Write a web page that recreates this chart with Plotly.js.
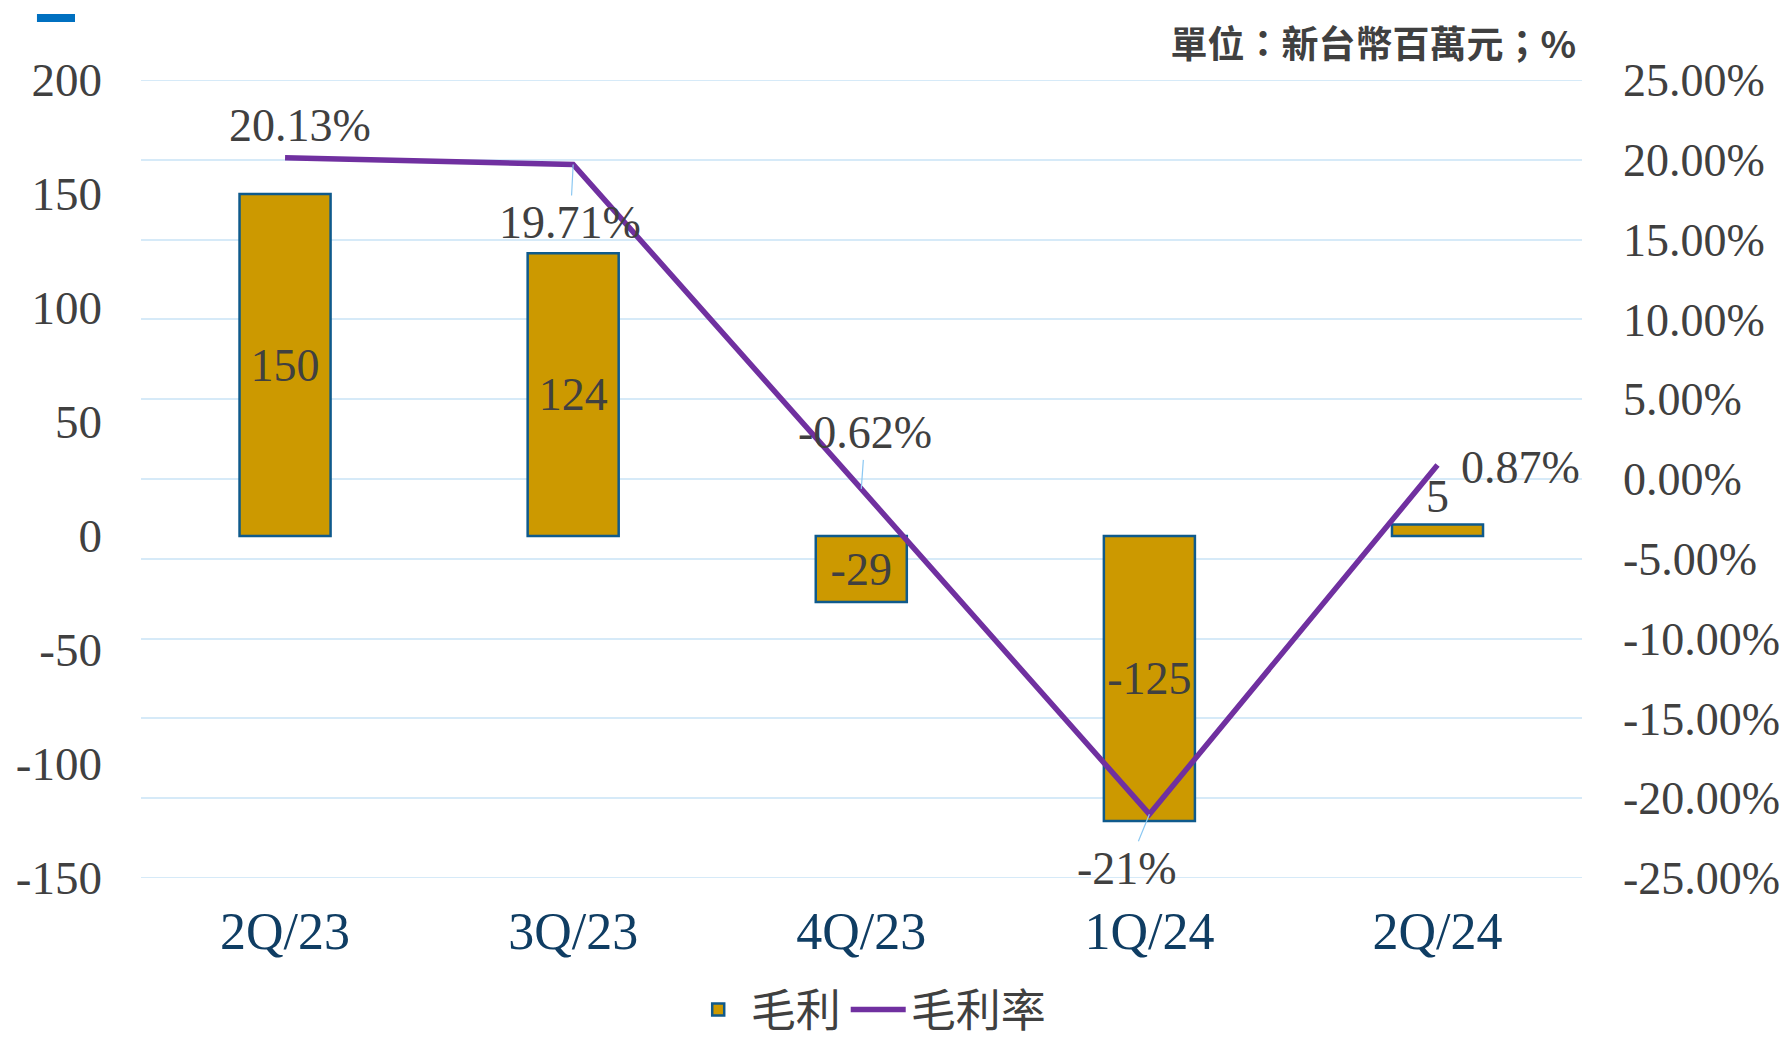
<!DOCTYPE html>
<html>
<head>
<meta charset="utf-8">
<script src="https://cdn.plot.ly/plotly-3.0.1.min.js"></script>
<style>
  html, body { margin: 0; padding: 0; background: #ffffff; }
  #chart { width: 1787px; height: 1042px; }
</style>
</head>
<body>
<div id="chart"></div>
<script>
// ---- data ----
const categories = ['2Q/23', '3Q/23', '4Q/23', '1Q/24', '2Q/24'];
const grossProfit = [150, 124, -29, -125, 5];          // 毛利 (新台幣百萬元)
const grossMarginPct = [20.13, 19.71, -0.62, -21, 0.87]; // 毛利率 (%)
const grossMarginText = ['20.13%', '19.71%', '-0.62%', '-21%', '0.87%'];
const leftTicks = [-150, -100, -50, 0, 50, 100, 150, 200];
const rightTicks = [-25, -20, -15, -10, -5, 0, 5, 10, 15, 20, 25];

// ---- styles ----
const serif = '"Liberation Serif", "Times New Roman", serif';
const cjk = '"Noto Sans CJK TC", "Noto Sans", sans-serif';
const textGray = '#404040';
const gridColor = '#D6EAF8';
const barPos = ['inside', 'inside', 'inside', 'inside', 'outside'];
// label placement (pixel offsets from each point) and leader-line flags
const labelStyle = [
  { dx: 15, dy: -32, arrow: false },
  { dx: -3, dy: 58, arrow: true },
  { dx: 4, dy: -56, arrow: true },
  { dx: -22, dy: 54, arrow: true },
  { dx: 83, dy: 2, arrow: false }
];

const barTrace = {
  type: 'bar',
  name: '毛利',
  x: categories,
  y: grossProfit,
  yaxis: 'y',
  width: 0.316,
  marker: { color: '#CC9900', line: { color: '#0F5A8C', width: 2.5 } },
  text: grossProfit.map(String),
  textposition: barPos,
  insidetextanchor: 'middle',
  constraintext: 'none',
  cliponaxis: false,
  textfont: { family: serif, size: 46, color: textGray },
  hoverinfo: 'skip'
};

const lineTrace = {
  type: 'scatter',
  mode: 'lines',
  name: '毛利率',
  x: categories,
  y: grossMarginPct,
  yaxis: 'y2',
  line: { color: '#7030A0', width: 5.5 },
  cliponaxis: false,
  hoverinfo: 'skip'
};

const annotations = categories.map((c, i) => {
  const s = labelStyle[i];
  const base = {
    x: c, y: grossMarginPct[i], xref: 'x', yref: 'y2',
    text: grossMarginText[i],
    font: { family: serif, size: 46, color: textGray }
  };
  if (s.arrow) {
    return Object.assign(base, {
      showarrow: true, arrowhead: 0, arrowwidth: 1.2, arrowcolor: '#8CC8F2',
      ax: s.dx, ay: s.dy, standoff: 0
    });
  }
  return Object.assign(base, { showarrow: false, xshift: s.dx, yshift: -s.dy });
});

// gridlines at the two range edges (Plotly omits gridlines on the plot boundary)
const edgeGrid = [rightTicks[0], rightTicks[rightTicks.length - 1]].map(v => ({
  type: 'line', xref: 'paper', yref: 'y2', x0: 0, x1: 1, y0: v, y1: v,
  layer: 'below', line: { color: gridColor, width: 2 }
}));

const layout = {
  width: 1787,
  height: 1042,
  paper_bgcolor: '#ffffff',
  plot_bgcolor: '#ffffff',
  margin: { l: 141, r: 205, t: 80, b: 164, autoexpand: false },
  showlegend: true,
  title: {
    text: '單位：新台幣百萬元；%',
    font: { family: cjk, size: 37, color: textGray, weight: 'bold' },
    xref: 'paper', x: 0.996, xanchor: 'right',
    yref: 'container', y: 0.957, yanchor: 'middle'
  },
  xaxis: {
    type: 'category',
    showgrid: false,
    zeroline: false,
    showline: false,
    ticks: '',
    ticklabelstandoff: 18,
    tickfont: { family: serif, size: 52, color: '#0F3D63' }
  },
  yaxis: {
    range: [-150, 200],
    tickvals: leftTicks,
    ticktext: leftTicks.map(String),
    showgrid: false,
    zeroline: false,
    showline: false,
    ticks: '',
    ticklabelstandoff: 38,
    tickfont: { family: serif, size: 47, color: textGray }
  },
  yaxis2: {
    overlaying: 'y',
    side: 'right',
    range: [-25, 25],
    tickvals: rightTicks,
    ticktext: rightTicks.map(v => v.toFixed(2) + '%'),
    showgrid: true,
    gridcolor: gridColor,
    gridwidth: 2,
    zeroline: false,
    showline: false,
    ticks: '',
    ticklabelstandoff: 40,
    tickfont: { family: serif, size: 46, color: textGray }
  },
  legend: {
    orientation: 'h',
    x: 0.505, xanchor: 'center',
    y: -0.165, yanchor: 'middle',
    font: { family: cjk, size: 45, color: textGray },
    itemwidth: 55,
    tracegroupgap: 0
  },
  annotations: annotations,
  shapes: edgeGrid.concat([{
    type: 'rect', xref: 'paper', yref: 'paper',
    x0: -0.0722, x1: -0.0458, y0: 1.0727, y1: 1.0827,
    fillcolor: '#0070C0', line: { width: 0 }
  }])
};

Plotly.newPlot('chart', [barTrace, lineTrace], layout, { displayModeBar: false, staticPlot: true });
</script>
</body>
</html>
